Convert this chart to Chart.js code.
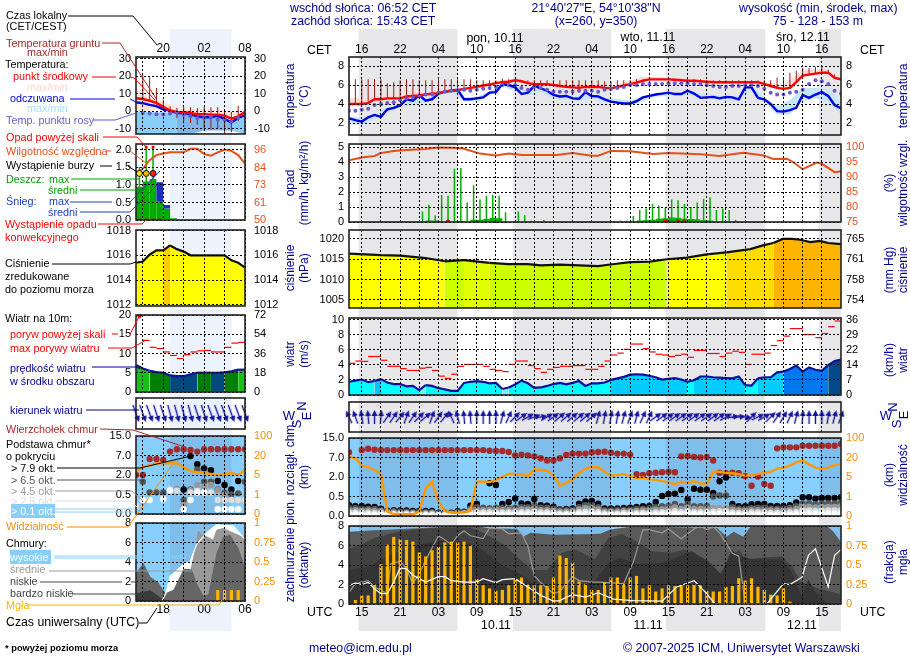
<!DOCTYPE html>
<html lang="pl">
<head>
<meta charset="utf-8">
<title>Meteogram</title>
<script src="https://cdn.jsdelivr.net/npm/chart.js@4"></script>
<style>
	html, body { margin: 0; background: #fff; }
	#page { position: relative; width: 910px; height: 660px; overflow: hidden; font-family: "Liberation Sans", Arial, sans-serif; }
	#page canvas { position: absolute; z-index: 1; }
	#page svg { position: absolute; left: 0; top: 0; z-index: 2; }
	.t { position: absolute; white-space: nowrap; z-index: 3; line-height: 14px; height: 14px; }
</style>
</head>
<body>
<div id="page"></div>
<script>
// hours since the start of each meteogram
const hoursR = Array.from({ length: 78 }, (_, i) => i);
const hoursL = Array.from({ length: 17 }, (_, i) => i);
const halfR = hoursR.slice(0, -1).map(h => h + 0.5);
const halfL = hoursL.slice(0, -1).map(h => h + 0.5);

// ticks
const gridR = [2, 5, 8, 11, 14, 17, 20, 23, 26, 29, 32, 35, 38, 41, 44, 47, 50, 53, 56, 59, 62, 65, 68, 71, 74];
const gridL = [1, 4, 7, 10, 13, 16];
const labelHoursR = [2, 8, 14, 20, 26, 32, 38, 44, 50, 56, 62, 68, 74];
const cetLabelsR = ['16', '22', '04', '10', '16', '22', '04', '10', '16', '22', '04', '10', '16'];
const utcLabelsR = ['15', '21', '03', '09', '15', '21', '03', '09', '15', '21', '03', '09', '15'];
const labelHoursL = [4, 10, 16];
const cetLabelsL = ['20', '02', '08'];
const utcLabelsL = ['18', '00', '06'];
const cloudAxisLevels = [0, 1, 2, 3, 4];
const cloudAxisKm = ['0.0', '0.5', '2.0', '7.0', '15.0'];
const visAxisKm = ['0', '1', '5', '20', '100'];

// night bands, hours
const nightsR = [[1.56, 16.9], [25.7, 41], [49.6, 65.1], [73.6, 77]];
const nightsL = [[5, 14]];

// ---- temperature, main panel
const tempMid = [4.0, 4.0, 4.0, 4.1, 4.5, 4.5, 4.6, 4.6, 4.6, 4.8, 4.85, 4.9, 5.0, 5.1, 5.15, 5.3, 5.4, 5.45, 5.6, 5.7, 5.8, 5.95, 6.05, 6.2, 6.3, 6.35, 6.5, 6.4, 6.2, 6.1, 6.1, 6.1, 6.0, 5.9, 5.8, 5.75, 5.7, 5.8, 5.8, 5.8, 5.7, 5.65, 5.8, 5.95, 6.1, 6.25, 6.45, 6.6, 6.6, 6.6, 6.6, 6.55, 6.5, 6.45, 6.45, 6.4, 6.35, 6.3, 6.3, 6.3, 6.3, 6.3, 6.3, 6.3, 6.3, 6.1, 5.9, 5.7, 5.6, 5.7, 6.3, 7.0, 7.1, 7.2, 7.3, 7.3, 6.75, 6.6];
const tempFeel = [2.5, 2.3, 2.15, 2.6, 2.85, 2.65, 3.45, 3.6, 3.85, 4.5, 4.35, 4.95, 4.35, 4.5, 5.1, 5.3, 5.4, 5.5, 4.5, 4.5, 4.6, 4.7, 5.2, 5.25, 6.1, 6.0, 5.75, 5.05, 5.2, 5.9, 5.65, 5.4, 4.95, 4.8, 4.85, 4.6, 4.55, 5.25, 4.85, 4.8, 4.5, 4.25, 4.15, 4.05, 4.05, 4.3, 4.7, 4.85, 5.0, 5.1, 5.2, 5.05, 5.05, 5.4, 5.1, 4.65, 4.7, 4.75, 4.6, 4.75, 4.7, 4.5, 5.75, 5.75, 4.65, 4.5, 4.0, 3.25, 3.2, 3.35, 3.6, 4.95, 4.65, 5.0, 5.25, 4.85, 3.9, 3.55];
const tempDew = [3.3, 3.3, 3.4, 3.5, 3.9, 4.0, 4.1, 4.2, 4.4, 4.6, 4.7, 4.8, 5.0, 5.0, 5.2, 5.3, 5.4, 5.4, 5.5, 5.4, 5.5, 5.6, 5.7, 5.8, 6.0, 6.0, 6.0, 5.7, 5.5, 5.8, 5.7, 5.5, 5.3, 5.3, 5.3, 5.3, 5.4, 5.4, 5.4, 5.3, 5.5, 5.6, 5.7, 5.8, 6.0, 6.0, 6.1, 6.1, 6.1, 6.1, 6.2, 6.2, 6.2, 6.2, 6.1, 6.1, 6.0, 5.9, 5.8, 5.8, 5.9, 5.9, 6.0, 6.0, 5.9, 5.6, 5.2, 5.0, 5.0, 5.2, 5.3, 5.5, 6.1, 6.5, 6.4, 6.1, 5.4, 5.1];
const groundMax = [6.6, 6.6, 6.6, 6.6, 6.6, 6.6, 6.2, 6.3, 6.5, 6.6, 6.6, 6.5, 6.5, 6.5, 6.6, 6.6, 6.6, 6.6, 6.6, 6.6, 6.5, 6.5, 6.5, 6.5, 6.7, 6.6, 6.6, 6.5, 6.5, 6.5, 6.5, 6.5, 6.5, 6.5, 6.5, 6.5, 6.5, 6.5, 6.5, 6.5, 6.4, 6.4, 6.5, 6.5, 6.5, 6.6, 6.6, 6.6, 6.6, 6.6, 6.6, 6.6, 6.6, 6.6, 6.6, 6.6, 6.5, 6.5, 6.5, 6.5, 6.5, 6.5, 6.5, 6.5, 6.5, 6.5, 6.5, 6.8, 6.8, 7.3, 7.5, 7.8, 7.8, 7.9, 7.9, 7.6, 7.1, 6.6];
const tempEnvHours = [0, 3, 6, 12, 18, 24, 26, 30, 39, 42, 46, 50, 60, 64, 68, 71, 74, 77];
const tempEnvMax = [4.6, 4.7, 5, 5.3, 5.7, 6.5, 6.7, 6.3, 6, 6, 6.9, 6.8, 6.5, 6.4, 6.0, 7.6, 7.6, 6.9];
const tempEnvMin = [3.9, 4.0, 4.5, 4.9, 5.5, 6.2, 6.4, 6.0, 5.7, 5.6, 6.4, 6.5, 6.2, 6.2, 5.5, 6.9, 7.2, 6.5];
const feelEnvHours = [0, 2, 4, 6, 8, 10, 12, 14, 16, 18, 20, 22, 24, 26, 28, 30, 32, 36, 38, 40, 44, 48, 54, 58, 61, 63, 65, 67, 69, 71, 73, 75, 77];
const feelEnvMax = [2.7, 2.5, 3.0, 3.6, 4.0, 4.5, 4.6, 5.2, 5.5, 4.7, 4.8, 5.3, 6.2, 6.0, 5.4, 5.8, 5.1, 4.8, 5.0, 4.7, 4.4, 5.1, 5.2, 4.9, 4.8, 5.9, 4.7, 3.8, 4.4, 5.7, 5.7, 5.6, 4.2];
const feelEnvMin = [1.9, 1.8, 2.4, 3.1, 3.6, 4.0, 4.1, 4.8, 5.3, 4.3, 4.3, 4.9, 5.9, 5.3, 4.9, 5.3, 4.6, 4.3, 4.6, 4.2, 3.8, 4.8, 4.9, 4.4, 4.3, 5.5, 4.2, 2.9, 2.9, 4.3, 4.6, 4.2, 2.9];

// ---- temperature, overview panel
const tempMidL = [7.4, 7, 6, 4.75, 2.5, 0.4, -0.4, -0.6, -1, -1.7, -1.7, -1.9, -1.9, -2.5, -4.2, -2.9, -0.4];
const tempFeelL = [5.1, 4.6, 3.6, 2.9, 1.1, 0.4, -1, -1.1, -1.7, -2.9, -3.4, -3.4, -2.5, -4.4, -6.3, -3.8, -2.3];
const tempDewHoursL = [1, 2, 3, 4, 5, 6, 7, 8, 9, 10, 11, 12, 13, 14, 15];
const tempDewL = [-1, -1.3, -1.7, -1.9, -1.3, -0.6, -1.9, -2.9, -3.8, -3.8, -3.2, -4.8, -5, -5.7, -3.8];
const groundHoursL = [1, 2, 3, 4, 5, 6, 7, 8, 9, 10, 11, 12, 13, 14, 15];
const groundMaxL = [21, 19.4, 13.3, 6.6, 2.9, 1.9, 2.5, 2.3, 1.9, 2.5, 2.3, 2.3, 1, -0.4, 3.2];
const groundMinL = [7, 6, 3.8, 2.5, -0.6, -3.8, -5.7, -6.7, -7.6, -9.5, -10.5, -9.5, -12.4, -12, -5.7];
const tempEnvHoursL = [0, 2, 3, 5, 7, 9, 13, 16];
const tempEnvMaxL = [13, 8.5, 6.6, 3.8, 1.9, 1, 0.6, 0];
const tempEnvMinL = [0, 0, 1, 0, -1, -2, -3, -1];
const feelEnvHoursL = [0, 2, 4, 6, 8, 10, 12, 14, 16];
const feelEnvMaxL = [0, -0.5, -0.5, -1, -1.7, -3.4, -2.5, -6, -2];
const feelEnvMinL = [-13, -13, -13, -13, -13, -11, -11, -11, -13];

// ---- precipitation and humidity
const rainMaxHours = [11.5, 12.5, 13.5, 14.5, 15.5, 16.5, 17.5, 18.5, 19.5, 20.5, 21.5, 22.5, 23.5, 24.5, 26.5, 27.5, 28.5, 30.5, 42.5, 43.5, 44.5, 45.5, 46.5, 47.5, 48.5, 49.5, 50.5, 51.5, 52.5, 53.5, 54.5, 55.5, 56.5, 57.5, 58.5, 59.5, 60.5];
const rainMax = [0.7, 1.15, 0.45, 1.8, 1.75, 3.55, 3.6, 1.3, 2.45, 1.5, 1.75, 1.8, 1.75, 0.65, 0.7, 0.45, 0.1, 0.15, 0.1, 0.1, 0.4, 0.8, 0.9, 1.2, 1.1, 0.95, 1.5, 1.45, 1.2, 1.0, 1.3, 1.55, 1.65, 0.8, 0.9, 0.8, 0.15];
const rainMeanHours = [12.5, 13.5, 17.5, 19.5, 20.5, 21.5, 22.5, 23.5, 45.5, 46.5, 47.5, 48.5, 49.5, 50.5, 51.5, 52.5, 53.5, 54.5, 55.5, 56.5];
const rainMean = [0.1, 0.1, 0.07, 0.15, 0.15, 0.2, 0.28, 0.25, 0.1, 0.12, 0.15, 0.22, 0.25, 0.3, 0.28, 0.22, 0.2, 0.18, 0.12, 0.1];
const convectiveHours = [15.5, 49.5, 51.5, 52.5];
const convective = [0.03, 0.03, 0.03, 0.03];
const humidityHours = [0, 2, 4, 5, 7, 9, 12, 14, 17, 18, 20.5, 23, 25, 27, 32.5, 35, 38, 39, 41, 44, 47.6, 50, 55, 58, 61.7, 64.9, 66.4, 68.5, 69.5, 71, 73.2, 74, 76, 77];
const humidity = [95.6, 96.5, 97, 98, 98.7, 99, 99.3, 99.8, 99.7, 99.4, 97.8, 97.2, 97.8, 97.3, 97.3, 98, 97.1, 97.1, 98.7, 98.6, 97.7, 98, 97.6, 97, 98.1, 97.2, 96, 96.1, 95, 92.6, 94.8, 94.4, 91.6, 91.9];
const rainMeanL = [0.95, 1.1, 1.17, 0.52, 0.33, 0.05];
const rainMeanHoursL = [0.5, 1.5, 2.5, 3.5, 4.5, 5.5];
const rainMaxHoursL = [0.5, 1.5, 2.5];
const rainMaxL = [1.52, 2.05, 2.05];
const snowHoursL = [3.5, 4.5];
const snowL = [[0.52, 1.08], [0.33, 0.43]];
const overScaleHoursL = [1.5, 2.5];
const overScaleL = [2.08, 2.08];
const stormHoursL = [0.5, 1.5, 2.5];
const stormL = [1.33, 1.33, 1.33];
const convectiveHoursL = [0.5, 1.5, 2.5, 3.5];
const convectiveL = [0.02, 0.02, 0.02, 0.02];
const humidityL = [80.7, 83.7, 89.4, 92.7, 93.8, 94.5, 94.5, 94.5, 96.8, 96.8, 93.4, 92.3, 94.5, 96.4, 95.5, 92.7, 87];

// ---- pressure
const pressureHours = [0, 5, 8, 12, 15, 18, 22, 25, 28, 30, 33, 36, 39, 40.9, 44, 47.1, 49.7, 52.9, 56, 59.1, 62.8, 64.8, 66.4, 67.9, 69.3, 70.6, 72.2, 73.7, 75, 77];
const pressure = [1016.4, 1016, 1015.9, 1015.3, 1014.5, 1014.8, 1014.1, 1013.8, 1013.8, 1013.5, 1013.7, 1013.5, 1013.3, 1013.7, 1014.3, 1014.4, 1015, 1015.4, 1016.2, 1016.7, 1017.5, 1018.4, 1019, 1020, 1020, 1019.8, 1019.2, 1019.5, 1019, 1018.7];
const pressureL = [1015.4, 1015.5, 1016.05, 1016.4, 1016.4, 1016.8, 1016.5, 1016.3, 1016, 1016, 1016, 1016, 1016, 1016, 1015.6, 1015.4, 1015];

// ---- wind
const windSpeed = [1.75, 1.9, 2.05, 1.7, 1.85, 2.1, 1.65, 1.45, 1.45, 1.15, 1.2, 0.65, 1.3, 1.2, 0.9, 0.75, 0.55, 0.55, 1.6, 1.75, 1.85, 1.75, 1.55, 1.6, 0.8, 1.0, 1.4, 1.9, 1.55, 0.95, 1.0, 1.2, 1.45, 1.6, 1.4, 1.6, 1.85, 1.2, 1.55, 1.55, 1.65, 2, 2.2, 2.4, 2.7, 2.75, 2.7, 2.55, 2.35, 2.05, 2.15, 2.25, 2.05, 1.75, 1.95, 2.45, 2.45, 2.35, 2.3, 2.25, 2.2, 2.45, 1.3, 1.25, 2.2, 2.35, 2.35, 3, 3.1, 3.45, 3.9, 3.1, 3.65, 3.35, 3.2, 3.95, 4.5, 4.7];
const windGust = [4.2, 4.5, 4.45, 5.1, 5.1, 4.6, 3.8, 3.8, 3.5, 3.25, 3.25, 3.55, 3.65, 3.25, 2.5, 2.2, 2.75, 3.8, 4.05, 4.05, 4.05, 3.8, 3.4, 3.25, 3.1, 4.05, 4.5, 4.5, 3.9, 3.5, 3.0, 3.4, 3.65, 3.8, 3.8, 3.9, 3.9, 3.4, 3.4, 3.8, 4.5, 5.3, 5.55, 6.05, 6.75, 6.75, 6.15, 5.7, 5.4, 5.3, 5.1, 5.25, 5.4, 5, 5.9, 5.9, 5.5, 5.5, 5.1, 5.55, 5.8, 5.65, 4.05, 5.4, 5.4, 5.55, 6.55, 7.2, 7.8, 8.8, 8.8, 8, 8, 7.6, 8.15, 9.05, 9.8];
const windDir = [-25, -20, -10, -5, 0, 5, 35, 35, 40, 20, 35, 45, 50, 20, 35, 40, -25, -15, -5, -5, 0, 0, 0, 0, 15, 25, 45, 55, 60, 70, 80, 60, 55, 50, 50, 50, 50, 50, 50, 15, 10, 10, 10, 15, 20, 15, 25, 25, 55, 55, 55, 55, 55, 55, 55, 55, 55, 55, 55, 60, 80, 85, 100, 45, 65, 60, 45, 35, 30, 25, 15, 5, 0, 0, 0, 10, 15, 20];
const windSpeedL = [7, 6.1, 5.5, 5.2, 5, 4.3, 4.1, 4.1, 4.6, 5, 5, 5, 5, 5.1, 5.4, 5.8, 5.8];
const windGustL = [null, 13.4, 11.6, 11.3, 10.4, 9.5, 8.7, 9.7, 10.4, 10.7, 10.8, 10.4, 10.4, 11.6, 12.7, 12.9];
const windOverHoursL = [0.5];
const windOverL = [19.7];
const windDirL = [160, 160, 160, 162, 162, 165, 165, 165, 165, 162, 162, 160, 160, 160, 160, 160, 160];

// ---- cloud base and top, on the axis' own level units (0.0, 0.5, 2, 7, 15 km = 0..4)
const cloudTop = [3.27, null, 3.38, 3.45, 3.4, 3.38, 3.38, 3.38, 3.38, 3.38, 3.38, 3.38, 3.38, 3.38, 3.38, 3.38, 3.38, 3.38, 3.38, 3.38, 3.38, 3.38, 3.35, 3.33, 3.33, 3.28, 3.11, 3.15, 3.11, 3.06, 2.96, 2.85, 2.85, 2.96, 3.13, 3.2, 3.2, 3.2, 3.27, 3.28, 3.3, 3.25, 3.2, 3.2, 3.15, 2.15, 2.1, 2.19, 2.22, 2.24, 2.27, 2.24, 3.06, 3.08, 3.03, 3.0, 3.03, 2.85, 2.22, 2.19, 2.22, 2.19, 2.05, 1.55, 2.02, 1.64, 1.55, 3.47, 3.52, 3.52, 3.52, 3.6, 3.6, 3.6, 3.6, 3.6, 3.6, 3.69];
const cloudBase79 = [0.56, 0.51, 0.51, 0.48, 0.46, 0.38, 0.27, 0.3, 0.29, 0.29, 0.26, 0.26, 0.26, 0.26, 0.17, 0.17, 0.17, 0.24, 0.22, 0.53, 0.63, null, 1.68, 1.59, 0.62, 0.72, 0.9, 0.65, 0.62, 0.87, 0.56, 0.53, 0.48, 0.34, 0.36, 0.39, 0.63, 0.75, 0.77, 0.63, 0.39, 0.39, 0.39, 0.41, 0.43, 0.46, 0.5, 0.51, 0.72, 1.03, 1.13, 1.15, 1.33, 0.85, 1.4, 1.35, 1.35, 1.18, 1.78, 1.97, 0.62, 0.5, 0.5, 0.6, 0.62, 0.62, 0.51, 0.51, 0.51, 0.55, 0.7, 0.96, 0.96, 0.89, 0.92, 0.92, 0.92, 0.96];
const cloudBase65 = [0.42, 0.4, 0.38, 0.36, 0.36, 0.3, 0.24, 0.24, 0.22, 0.22, 0.2, 0.2, 0.2, 0.2, 0.14, 0.14, 0.14, 0.2, 0.2, 0.38, 0.45, 0.42, 0.4, 0.42, 0.4, 0.4, 0.42, 0.45, 0.45, 0.55, 0.42, 0.42, 0.38, 0.3, 0.3, 0.32, 0.45, 0.55, 0.55, 0.45, 0.3, 0.3, 0.3, 0.32, 0.34, 0.36, 0.38, 0.4, 0.45, 0.5, 0.52, 0.62, 0.5, 0.62, 0.5, 0.5, 0.52, 1.0, 1.05, 1.05, 0.45, 0.38, 0.38, 0.4, 0.42, 0.42, 0.38, 0.38, 0.38, 0.42, 0.5, 0.65, 0.66, 0.6, 0.65, 0.65, 0.65, 0.68];
const cloudBase45 = [0.3, 0.3, 0.28, 0.28, 0.26, 0.24, 0.18, 0.18, 0.16, 0.16, 0.14, 0.14, 0.14, 0.14, 0.1, 0.1, 0.1, 0.14, 0.14, 0.28, 0.32, 0.3, 0.3, 0.32, 0.3, 0.3, 0.3, 0.34, 0.34, 0.38, 0.3, 0.3, 0.28, 0.22, 0.22, 0.24, 0.34, 0.4, 0.4, 0.34, 0.22, 0.22, 0.22, 0.24, 0.24, 0.26, 0.28, 0.3, 0.32, 0.34, 0.36, 0.44, 0.36, 0.42, 0.36, 0.36, 0.36, 0.4, 0.4, 0.4, 0.32, 0.28, 0.28, 0.3, 0.3, 0.3, 0.28, 0.28, 0.28, 0.3, 0.36, 0.48, 0.48, 0.44, 0.46, 0.46, 0.46, 0.5];
const cloudBase25 = [0.18, 0.18, 0.16, 0.16, 0.14, 0.14, 0.1, 0.1, 0.1, 0.1, 0.08, 0.08, 0.08, 0.08, 0.06, 0.06, 0.06, 0.08, 0.08, 0.16, 0.18, 0.18, 0.18, 0.18, 0.18, 0.18, 0.18, 0.2, 0.2, 0.22, 0.18, 0.18, 0.16, 0.12, 0.12, 0.14, 0.2, 0.22, 0.22, 0.2, 0.12, 0.12, 0.12, 0.14, 0.14, 0.14, 0.16, 0.16, 0.18, 0.2, 0.2, 0.24, 0.2, 0.24, 0.2, 0.2, 0.2, 0.22, 0.24, 0.24, 0.18, 0.16, 0.16, 0.18, 0.18, 0.18, 0.16, 0.16, 0.16, 0.18, 0.2, 0.28, 0.28, 0.26, 0.28, 0.28, 0.28, 0.3];
const cloudBase01 = [0.08, 0.08, 0.07, 0.07, 0.06, 0.06, 0.05, 0.05, 0.04, 0.04, 0.03, 0.03, 0.03, 0.03, 0.02, 0.02, 0.02, 0.03, 0.03, 0.06, 0.07, 0.07, 0.07, 0.07, 0.07, 0.07, 0.07, 0.08, 0.08, 0.09, 0.07, 0.07, 0.06, 0.05, 0.05, 0.06, 0.08, 0.09, 0.09, 0.08, 0.05, 0.05, 0.05, 0.06, 0.06, 0.06, 0.07, 0.07, 0.07, 0.08, 0.08, 0.1, 0.08, 0.1, 0.08, 0.08, 0.08, 0.09, 0.1, 0.1, 0.07, 0.06, 0.06, 0.07, 0.07, 0.07, 0.06, 0.06, 0.06, 0.07, 0.08, 0.12, 0.12, 0.11, 0.12, 0.12, 0.12, 0.13];
const visibility = [3.04, 2.96, 2.58, 2.5, 2.36, 2.15, 0.22, 0.1, 0.09, 0.09, 0.09, 0.22, 1.42, 1.76, 0.73, 0.26, 0.17, 0.17, 0.19, 0.26, 1.76, 1.76, 1.74, 1.85, 2.0, 2.17, 2.15, 2.13, 2.05, 2.38, 2.36, 2.32, 2.1, 1.54, 1.7, 1.88, 2.19, 2.43, 2.51, 2.5, 2.27, 2.07, 2.1, 2.14, 2.05, 1.93, 1.97, 1.88, 1.85, 1.79, 1.73, 1.62, 1.76, 1.7, 1.78, 1.68, 1.64, 2.27, 2.27, 2.22, 2.19, 2.14, 2.07, 2.1, 2.15, 2.22, 2.27, 2.43, 2.48, 2.58, 2.75, 2.84, 2.65, 2.48, 2.41, 2.48, 2.62, 2.65];
const cloudTopL = [2, 2, 2.82, 2.82, 2.77, 3.2, 3.32, 3.32, 3.28, 3.2, 3.32, 3.32, 3.32, 3.32, 3.32, 3.32, 3.32];
const cloudBase79L = [null, null, null, null, null, null, null, 1.26, 2.97, 2.55, 2.34, 2.25, 1.69, 1.49, 1.26, 1.69, null];
const cloudBase65L = [null, 1.66, 1.11, 1.11, 1.11, null, 1.26, 0.72, 1.26, 2.29, 1.66, 1.66, 1.26, 1.09, 1.0, 1.06, 1.66];
const cloudBase45L = [null, 0.68, null, null, null, 1.26, 1.26, 0.46, 1.22, 1.49, 1.4, 1.49, 1.23, 0.97, 0.72, null, 0.72];
const cloudBase25L = [0.41, null, null, null, null, 1.26, 1.2, null, 1.1, 1.18, 1.1, 1.1, 0.72, 0.72, 0.72, 0.72, 0.72];
const cloudBase01L = [null, 0.72, 0.72, null, 0.77, 1.2, null, 0.24, 0.72, 1.1, 1.1, null, 0.24, 0.24, 0.24, 0.24, null];
const visibilityL = [2.2, 2.4, 2.5, 2.6, 2.6, 2.6, 2.6, 2.4, 2.2, 2.15, 2.1, 2.05, 2.0, 2.05, 2.1, 2.0, 2.25];

// ---- cloud cover in oktas, fog as a fraction
const coverTopHours = [0, 3.3, 11.7, 16.9, 20, 21.6, 26.3, 27.3, 28.4, 32, 36.7, 39.3, 40.9, 44.5, 57.6, 59.1, 60.2, 61.7, 62.8, 74.8, 75.8, 77];
const coverTop = [7.4, 7.55, 7.8, 8, 8, 7.8, 7.7, 6.9, 7.3, 7.1, 7.15, 7.2, 7.65, 7.95, 7.8, 6.9, 7.4, 6.9, 7.9, 8, 7.4, 6.35];
const coverMidHours = [0, 2, 4, 7, 10, 15, 19, 21, 24.5, 26, 28.7, 31, 33.4, 35.5, 38.5, 40.6, 42.7, 45.3, 47.4, 50.5, 52.6, 56.2, 57.8, 59.6, 61, 62, 64.6, 67.7, 69.3, 70.8, 74, 77];
const coverMid = [5.7, 6.1, 6.8, 7.3, 7.65, 7.85, 7.85, 7.3, 6, 5, 3.5, 3.5, 5.3, 5.6, 4.6, 6.8, 7.15, 6.3, 5.4, 5.25, 5.6, 3.7, 2.9, 4.6, 5.6, 4.6, 4.75, 4.9, 3.9, 2.2, 1.5, 1];
const coverLowHours = [0, 3, 6, 10, 15, 18, 21, 24, 27, 30, 34, 36, 38.5, 40.6, 42.4, 45.3, 49, 53.6, 56.2, 58.3, 59.9, 61, 63, 67.7, 69.3, 70.8, 71.9, 73, 75, 77];
const coverLow = [3.5, 3.8, 4.9, 6, 6.6, 6.4, 5.5, 4, 3, 1.5, 1.5, 2, 2.4, 4.2, 4.75, 4.1, 4.2, 5.4, 4.4, 3, 5.6, 5, 4.6, 4.6, 3.2, 0.8, 2.5, 1.2, 0, 0];
const midLineHours = [0, 1, 3, 4, 5, 6, 6.5, 8, 9, 10, 11, 12, 14, 15, 16, 17, 18, 19, 21, 22, 24, 25, 27, 28, 29, 30, 32, 33, 34, 35, 36, 38, 39, 43, 44.5, 46, 47, 49, 50, 52, 54, 55, 56, 57, 58, 60, 61, 62];
const midLine = [1.2, 2.1, 2.4, 1.75, 1.4, 1.05, 4.1, 4.4, 3.6, 2.1, 3.1, 4.5, 7, 6.6, 6.1, 7, 7.5, 7, 6.7, 7.8, 7.7, 7.2, 7.3, 5.9, 2.9, 2.2, 1.05, 1.3, 2.1, 2.8, 2.4, 2.25, 2.25, 2.1, 4.3, 7.6, 7.6, 7.3, 7.7, 6.7, 7.7, 8, 7.6, 7.9, 7.3, 5.2, 4.9, 0];
const highLineHours = [0, 1, 2, 3, 4, 5, 6, 7, 8, 9, 10, 12, 14, 15, 16, 18, 20, 21, 23, 24, 26, 28, 30, 32, 33, 34, 35, 37, 39, 41.4, 44.5, 49, 51.3, 54, 55.8, 57.3, 65.4, 68, 69, 70.9, 71.9, 73, 75, 76, 77];
const highLine = [1.9, 2.15, 2, 2.2, 1.55, 1.05, 1.05, 2.25, 3.7, 3.6, 2.95, 2.25, 2.8, 2.8, 2.4, 2.25, 2.25, 2.6, 2.2, 2.5, 2.6, 1.75, 0.9, 0.3, 0.35, 0.7, 0.95, 0.7, 1.15, 0.5, 0.35, 0.3, 1.75, 2.4, 1.2, 0, 0, 2.1, 2, 2.75, 5, 5.65, 1.75, 5, 5.6];
const fogHours = hoursR.slice(1, 70);
const fog = [0.05, 0.11, 0.11, 0.25, 0.51, 0.76, 0.86, 0.83, 0.82, 0.8, 0.66, 0.61, 0.69, 0.73, 0.79, 0.8, 0.79, 0.8, 0.75, 0.32, 0.24, 0.2, 0.17, 0.18, 0.24, 0.31, 0.34, 0.25, 0.24, 0.24, 0.23, 0.34, 0.62, 0.59, 0.53, 0.29, 0.26, 0.18, 0.18, 0.28, 0.34, 0.34, 0.26, 0.34, 0.36, 0.2, 0.24, 0.16, 0.2, 0.24, 0.23, 0.23, 0.24, 0.25, 0.24, 0.17, 0.16, 0.16, 0.22, 0.23, 0.33, 0.3, 0.33, 0.22, 0.18, 0.12, 0.11, 0.2, 0.03];
const highLineHoursL = [3.8, 4.4, 5, 7, 7.9, 8.9, 10.4, 11.8, 14.3, 16];
const highLineL = [0, 0.8, 2.5, 3.8, 4, 5.8, 7, 7.8, 7.7, 6.3];
const coverMidHoursL = [8, 8.8, 9.1, 9.9, 11.3, 11.8, 12.8, 16];
const coverMidL = [3.2, 5.8, 7.2, 6.8, 6.3, 7.3, 7.5, 6.5];
const coverLowHoursL = [0, 1.1, 2.1, 3.3, 4.3, 5.5, 7, 8.2, 8.9, 9.9, 10.6, 11.8, 12.8, 13.8, 15, 16];
const coverLowL = [2.9, 3.9, 2.5, 1.9, 0.8, 1.15, 3.3, 3.25, 1.85, 0.55, 0.65, 4.9, 6.6, 6.8, 5.5, 3.5];
const coverVeryLowHoursL = [0, 2.1, 4, 5];
const coverVeryLowL = [0.8, 1.1, 0.15, 0];
const fogHoursL = [12, 13, 14, 15];
const fogL = [0.14, 0.14, 0.14, 0.14];

// ---- colour strips, each stop runs up to the given hour
const pressStops = [[14, '#ffff00'], [17, '#ccff00'], [19, '#e2ff00'], [48, '#ccff00'], [58, '#ffff00'], [65, '#ffdd00'], [78, '#ffb400']];
const pressStopsL = [[4, '#ffff00'], [5, '#ffcc00'], [17, '#ffff00']];
const windStops = [[4, '#00ffff'], [5, '#00c4ff'], [11, '#00ffff'], [12, '#66ffff'], [24, '#00ffff'], [25, '#66ffff'], [41, '#00ffff'], [53, '#00ccff'], [54, '#00ffff'], [62, '#00ccff'], [64, '#00ffff'], [68, '#00ccff'], [75, '#0078ee'], [78, '#004a8c']];
const windStopsL = [[2, '#16c016'], [5, '#008000'], [9, '#004a80'], [11, '#008000'], [13, '#004a80'], [15, '#008000'], [17, '#16c016']];
const feelStopsL = [[5, '#87cdf8'], [14, '#7db6ea'], [17, '#87cdf8']];

const NAVY = '#000090';
const FONT_TICK = { family: '"Liberation Sans", Arial, sans-serif', size: 11 };
const FONT_TIME = { family: '"Liberation Sans", Arial, sans-serif', size: 12 };
const page = document.getElementById('page');

function pts(xs, ys) {
	return xs.map((x, i) => ({ x: x, y: ys[i] }));
}
function stopColor(stops, h) {
	for (const s of stops) {
		if (h < s[0]) return s[1];
	}
	return stops[stops.length - 1][1];
}
function line(xs, ys, color, width, order, axis) {
	return { type: 'line', data: pts(xs, ys), borderColor: color, borderWidth: width, order: order, yAxisID: axis || 'y', pointRadius: 0, tension: 0, fill: false };
}
function dots(xs, ys, color, radius, order, axis) {
	return { type: 'line', data: pts(xs, ys), showLine: false, pointRadius: radius, pointBackgroundColor: color, pointBorderWidth: 0, order: order, yAxisID: axis || 'y' };
}
// ungrouped, so the thin bars stay on their hour; width comes from maxBarThickness then
function bars(xs, ys, color, thick, order, axis) {
	return { type: 'bar', data: pts(xs, ys), backgroundColor: color, grouped: false, maxBarThickness: thick, barPercentage: 1, categoryPercentage: 1, inflateAmount: 0, order: order, yAxisID: axis || 'y' };
}
function dashes(xs, ys, color, radius, order) {
	return { type: 'line', data: pts(xs, ys), showLine: false, pointStyle: 'line', pointRadius: radius, pointBorderColor: color, pointBorderWidth: 1.2, order: order };
}
function band(xs, hi, lo, color, order) {
	return [
		{ type: 'line', data: pts(xs, hi), borderWidth: 0, pointRadius: 0, fill: '+1', backgroundColor: color, order: order },
		{ type: 'line', data: pts(xs, lo), borderWidth: 0, pointRadius: 0, fill: false, order: order },
	];
}
function area(xs, ys, color, order) {
	return { type: 'line', data: pts(xs, ys), borderWidth: 0, pointRadius: 0, fill: 'origin', backgroundColor: color, order: order, tension: 0 };
}

// sky behind the cloud panels and the frame around every panel
const panelDeco = {
	id: 'panelDeco',
	beforeDatasetsDraw(chart, args, opts) {
		if (!opts.nights) return;
		const { ctx, chartArea: a, scales } = chart;
		ctx.save();
		ctx.fillStyle = '#87cfff';
		ctx.fillRect(a.left, a.top, a.width, a.height);
		ctx.fillStyle = '#7fbeea';
		opts.nights.forEach(n => {
			const x0 = scales.x.getPixelForValue(n[0]);
			const x1 = scales.x.getPixelForValue(n[1]);
			ctx.fillRect(x0, a.top, x1 - x0, a.height);
		});
		ctx.restore();
	},
	afterDraw(chart) {
		const { ctx, chartArea: a } = chart;
		ctx.save();
		ctx.strokeStyle = '#222';
		ctx.lineWidth = 1.6;
		ctx.strokeRect(a.left, a.top, a.width, a.height);
		ctx.restore();
	},
};

function panel(cfg) {
	const mTop = 20, mBottom = 20, side = 42;
	const canvas = document.createElement('canvas');
	canvas.width = cfg.w + side * 2;
	canvas.height = cfg.h + mTop + mBottom;
	canvas.style.left = (cfg.x - side) + 'px';
	canvas.style.top = (cfg.y - mTop) + 'px';
	page.appendChild(canvas);

	const setTicks = list => axis => { axis.ticks = list.map(v => ({ value: v })); };
	const gridOpts = { color: '#000', z: 1, drawTicks: false, lineWidth: 1, offset: false };
	const borderOpts = { display: false, dash: [2, 2] };
	const scales = {
		x: {
			type: 'linear',
			position: cfg.xPos || 'bottom',
			offset: false,
			min: 0,
			max: cfg.xMax,
			afterBuildTicks: setTicks(cfg.grid),
			afterFit: s => { s.height = cfg.xPos ? (cfg.xPos === 'top' ? mTop : mBottom) : 0; },
			ticks: {
				display: !!cfg.xPos,
				autoSkip: false,
				maxRotation: 0,
				padding: cfg.xPad === undefined ? 1 : cfg.xPad,
				color: '#000',
				font: FONT_TIME,
				callback: v => {
					const k = cfg.xHours ? cfg.xHours.indexOf(v) : -1;
					return k < 0 ? '' : cfg.xLabels[k];
				},
			},
			grid: gridOpts,
			border: borderOpts,
		},
	};
	if (cfg.yTicks) {
		scales.y = {
			position: 'left',
			min: cfg.yMin,
			max: cfg.yMax,
			afterBuildTicks: setTicks(cfg.yTicks),
			afterFit: s => { s.width = side; },
			ticks: { autoSkip: false, padding: cfg.yPad || 5, color: '#000', font: FONT_TICK, callback: (v, i) => cfg.yLabels[i] },
			grid: gridOpts,
			border: borderOpts,
		};
		scales.y1 = {
			position: 'right',
			min: cfg.y1Min,
			max: cfg.y1Max,
			afterBuildTicks: setTicks(cfg.y1Ticks),
			afterFit: s => { s.width = side; },
			ticks: { autoSkip: false, padding: cfg.y1Pad || 5, color: cfg.y1Color || '#000', font: FONT_TICK, callback: (v, i) => cfg.y1Labels[i] },
			grid: { display: false, drawTicks: false },
			border: { display: false },
		};
	} else {
		scales.y = { display: false, min: -1, max: 1 };
	}
	return new Chart(canvas, {
		type: 'line',
		data: { datasets: cfg.datasets },
		plugins: [panelDeco],
		options: {
			responsive: false,
			animation: false,
			devicePixelRatio: 1,
			events: [],
			layout: {
				padding: {
					left: cfg.yTicks ? 0 : side,
					right: cfg.yTicks ? 0 : side,
					top: cfg.xPos === 'top' ? 0 : mTop,
					bottom: cfg.xPos === 'bottom' ? 0 : mBottom,
				},
			},
			scales: scales,
			plugins: {
				legend: { display: false },
				tooltip: { enabled: false },
				title: { display: false },
				panelDeco: { nights: cfg.sky },
			},
		},
	});
}

// night strips, drawn as floating bars that run past the panels
function nightStrips(x, w, maxHour, list, color) {
	const canvas = document.createElement('canvas');
	canvas.width = w;
	canvas.height = 602;
	canvas.style.left = x + 'px';
	canvas.style.top = '29px';
	canvas.style.zIndex = 0;
	page.appendChild(canvas);
	new Chart(canvas, {
		type: 'bar',
		data: {
			labels: ['noc'],
			datasets: list.map(n => ({ data: [n], backgroundColor: color, barPercentage: 1, categoryPercentage: 1, grouped: false })),
		},
		options: {
			indexAxis: 'y',
			responsive: false,
			animation: false,
			devicePixelRatio: 1,
			events: [],
			scales: {
				x: { display: false, min: 0, max: maxHour },
				y: { display: false },
			},
			plugins: { legend: { display: false }, tooltip: { enabled: false } },
		},
	});
}
nightStrips(349, 492, 77, nightsR, '#e7e7e9');
nightStrips(136, 109, 16, nightsL, '#edf3fd');

// wind arrow sprite, pointing up, turned per point with pointRotation
function arrowSprite(len) {
	const s = document.createElement('canvas');
	s.width = 7;
	s.height = len;
	const c = s.getContext('2d');
	c.fillStyle = '#1414a0';
	c.fillRect(2.8, 3, 1.4, len - 3);
	c.beginPath();
	c.moveTo(3.5, 0);
	c.lineTo(6.5, 6);
	c.lineTo(0.5, 6);
	c.closePath();
	c.fill();
	return s;
}
function arrows(xs, angles, len) {
	return { type: 'line', data: xs.map(x => ({ x: x, y: 0 })), showLine: false, pointStyle: arrowSprite(len), pointRadius: 8, pointRotation: angles, clip: false };
}

// ---- right column
const R = { x: 349, w: 492, xMax: 77, grid: gridR };
const L = { x: 136, w: 109, xMax: 16, grid: gridL };

panel({
	...R, y: 57, h: 78, xPos: 'top', xPad: 0, xHours: labelHoursR, xLabels: cetLabelsR,
	yMin: 0.74, yMax: 8.95, yTicks: [2, 4, 6, 8], yLabels: ['2', '4', '6', '8'],
	y1Min: 0.74, y1Max: 8.95, y1Ticks: [2, 4, 6, 8], y1Labels: ['2', '4', '6', '8'],
	datasets: [
		line(hoursR, tempMid, '#ff0000', 2.4, 2),
		line(hoursR, tempFeel, '#0000e8', 2.4, 3),
		dots(hoursR, tempDew, '#6a5acd', 2, 1),
		bars(hoursR, tempMid.map((v, i) => [v, groundMax[i]]), '#a01818', 1, 4),
		...band(tempEnvHours, tempEnvMax, tempEnvMin, '#ffdcd6', 6),
		...band(feelEnvHours, feelEnvMax, feelEnvMin, '#c4e6ff', 5),
	],
});

panel({
	...R, y: 144, h: 78,
	yMin: 0, yMax: 5.2, yTicks: [0, 1, 2, 3, 4, 5], yLabels: ['0', '1', '2', '3', '4', '5'],
	y1Min: 75, y1Max: 101, y1Ticks: [75, 80, 85, 90, 95, 100], y1Labels: ['75', '80', '85', '90', '95', '100'], y1Color: '#e8501a',
	datasets: [
		line(humidityHours, humidity, '#e8501a', 2, 1, 'y1'),
		dots(convectiveHours, convective, '#e00000', 2, 2),
		bars(rainMaxHours, rainMax, '#00b000', 1.5, 3),
		bars(rainMeanHours, rainMean, '#00b000', 6.4, 4),
	],
});
panel({
	...R, y: 230, h: 78,
	yMin: 1003, yMax: 1022.2, yTicks: [1005, 1010, 1015, 1020], yLabels: ['1005', '1010', '1015', '1020'],
	y1Min: 1003, y1Max: 1022.2, y1Ticks: [1005, 1010, 1015, 1020], y1Labels: ['754', '758', '761', '765'],
	datasets: [
		{ ...line(pressureHours, pressure, '#111', 2.2, 1), fill: 'start', backgroundColor: '#ffff00', segment: { backgroundColor: c => stopColor(pressStops, c.p0.parsed.x) } },
	],
});
panel({
	...R, y: 318, h: 77,
	yMin: 0, yMax: 10.2, yTicks: [0, 2, 4, 6, 8, 10], yLabels: ['0', '2', '4', '6', '8', '10'],
	y1Min: 0, y1Max: 10.2, y1Ticks: [0, 2, 4, 6, 8, 10], y1Labels: ['0', '7', '14', '22', '29', '36'],
	datasets: [
		dashes(halfR, windGust, '#ff0000', 3.2, 1),
		{ ...line(hoursR, windSpeed, '#10109c', 2.2, 2), fill: 'origin', backgroundColor: '#00ffff', segment: { backgroundColor: c => stopColor(windStops, c.p0.parsed.x) } },
	],
});
panel({ ...R, y: 402, h: 30, datasets: [arrows(hoursR, windDir, 14)] });
panel({
	...R, y: 438, h: 78, sky: nightsR,
	yMin: 0, yMax: 4, yTicks: cloudAxisLevels, yLabels: cloudAxisKm,
	y1Min: 0, y1Max: 4, y1Ticks: cloudAxisLevels, y1Labels: visAxisKm, y1Color: '#ff8c00',
	datasets: [
		line(hoursR, visibility, '#ff9800', 2.4, 1, 'y1'),
		dots(hoursR, cloudBase01, '#ffffff', 3.2, 2),
		dots(hoursR, cloudBase25, '#dddddd', 3.2, 3),
		dots(hoursR, cloudBase45, '#999999', 3.2, 4),
		dots(hoursR, cloudBase65, '#555555', 3.2, 5),
		dots(hoursR, cloudBase79, '#000000', 3.2, 6),
		dots(hoursR, cloudTop, '#a52a2a', 3.2, 7),
	],
});
panel({
	...R, y: 526, h: 78, sky: nightsR, xPos: 'bottom', xHours: labelHoursR, xLabels: utcLabelsR,
	yMin: 0, yMax: 8, yTicks: [0, 2, 4, 6, 8], yLabels: ['0', '2', '4', '6', '8'],
	y1Min: 0, y1Max: 1, y1Ticks: [0, 0.25, 0.5, 0.75, 1], y1Labels: ['0', '0.25', '0.5', '0.75', '1'], y1Color: '#ff8c00',
	datasets: [
		line(highLineHours, highLine, '#ffffff', 1.2, 1),
		bars(fogHours, fog, '#ffb400', 3.2, 2, 'y1'),
		line(midLineHours, midLine, '#9a9a9a', 1.2, 3),
		area(coverLowHours, coverLow, '#343434', 4),
		area(coverMidHours, coverMid, '#414141', 5),
		area(coverTopHours, coverTop, '#5a5a5a', 6),
	],
});

// ---- left column
panel({
	...L, y: 57, h: 77, xPos: 'top', xHours: labelHoursL, xLabels: cetLabelsL,
	yMin: -13, yMax: 31, yTicks: [-10, 0, 10, 20, 30], yLabels: ['-10', '0', '10', '20', '30'],
	y1Min: -13, y1Max: 31, y1Ticks: [-10, 0, 10, 20, 30], y1Labels: ['-10', '0', '10', '20', '30'], y1Pad: 9,
	datasets: [
		dots(tempDewHoursL, tempDewL, '#6a5acd', 2, 1),
		line(hoursL, tempMidL, '#ff0000', 2.4, 2),
		line(hoursL, tempFeelL, '#0000e8', 2.4, 3),
		bars(groundHoursL, groundMinL.map((v, i) => [v, groundMaxL[i]]), '#a01818', 1, 4),
		...band(tempEnvHoursL, tempEnvMaxL, tempEnvMinL, '#ffe4da', 6),
		{ type: 'line', data: pts(feelEnvHoursL, feelEnvMaxL), borderWidth: 0, pointRadius: 0, fill: '+1', backgroundColor: '#87cdf8', order: 5, segment: { backgroundColor: c => stopColor(feelStopsL, c.p0.parsed.x) } },
		{ type: 'line', data: pts(feelEnvHoursL, feelEnvMinL), borderWidth: 0, pointRadius: 0, fill: false, order: 5 },
	],
});
panel({
	...L, y: 144, h: 76,
	yMin: 0, yMax: 2.17, yTicks: [0, 0.5, 1, 1.5, 2], yLabels: ['0.0', '0.5', '1.0', '1.5', '2.0'],
	y1Min: 50, y1Max: 100, y1Ticks: [50, 61, 73, 84, 96], y1Labels: ['50', '61', '73', '84', '96'], y1Pad: 9, y1Color: '#e8501a',
	datasets: [
		line(hoursL, humidityL, '#e8501a', 2, 3, 'y1'),
		{ ...dots(stormHoursL, stormL, ['#ffe600', '#ffb000', '#ff2000'], 3, 1), pointBorderWidth: 1, pointBorderColor: '#111' },
		{ ...dots(overScaleHoursL, overScaleL, '#ee0000', 2, 2), pointStyle: 'rect' },
		dashes(convectiveHoursL, convectiveL, '#e00000', 2.5, 2),
		bars(snowHoursL, snowL, '#1c30c0', 7, 4),
		bars(rainMaxHoursL, rainMaxL, '#00b000', 1.5, 5),
		bars(rainMeanHoursL, rainMeanL, '#00a800', 7, 6),
	],
});
panel({
	...L, y: 230, h: 76,
	yMin: 1011.9, yMax: 1018.05, yTicks: [1012, 1014, 1016, 1018], yLabels: ['1012', '1014', '1016', '1018'],
	y1Min: 1011.9, y1Max: 1018.05, y1Ticks: [1012, 1014, 1016, 1018], y1Labels: ['1012', '1014', '1016', '1018'], y1Pad: 9,
	datasets: [
		{ ...line(hoursL, pressureL, '#111', 2.2, 1), fill: 'start', backgroundColor: '#ffff00', segment: { backgroundColor: c => stopColor(pressStopsL, c.p0.parsed.x) } },
	],
});
panel({
	...L, y: 315, h: 77,
	yMin: 0, yMax: 20, yTicks: [0, 5, 10, 15, 20], yLabels: ['0', '5', '10', '15', '20'],
	y1Min: 0, y1Max: 20, y1Ticks: [0, 5, 10, 15, 20], y1Labels: ['0', '18', '36', '54', '72'], y1Pad: 9,
	datasets: [
		{ ...dots(windOverHoursL, windOverL, '#ee0000', 2), clip: false },
		dashes(halfL, windGustL, '#ff0000', 3.4, 1),
		{ ...line(hoursL, windSpeedL, '#10109c', 2.2, 2), fill: 'origin', backgroundColor: '#008000', segment: { backgroundColor: c => stopColor(windStopsL, c.p0.parsed.x) } },
	],
});
panel({ ...L, y: 398, h: 31, datasets: [arrows(hoursL, windDirL, 18)] });
panel({
	...L, y: 436, h: 78, sky: nightsL,
	yMin: 0, yMax: 4, yTicks: cloudAxisLevels, yLabels: cloudAxisKm,
	y1Min: 0, y1Max: 4, y1Ticks: cloudAxisLevels, y1Labels: visAxisKm, y1Pad: 9, y1Color: '#ff8c00',
	datasets: [
		line(hoursL, visibilityL, '#ff9800', 2.4, 1, 'y1'),
		dots(hoursL, cloudBase01L, '#ffffff', 3.2, 2),
		dots(hoursL, cloudBase25L, '#dddddd', 3.2, 3),
		dots(hoursL, cloudBase45L, '#999999', 3.2, 4),
		dots(hoursL, cloudBase65L, '#555555', 3.2, 5),
		dots(hoursL, cloudBase79L, '#000000', 3.2, 6),
		dots(hoursL, cloudTopL, '#a52a2a', 3.2, 7),
	],
});
panel({
	...L, y: 523, h: 78, sky: nightsL, xPos: 'bottom', xHours: labelHoursL, xLabels: utcLabelsL,
	yMin: 0, yMax: 8, yTicks: [0, 2, 4, 6, 8], yLabels: ['0', '2', '4', '6', '8'],
	y1Min: 0, y1Max: 1, y1Ticks: [0, 0.25, 0.5, 0.75, 1], y1Labels: ['0', '0.25', '0.5', '0.75', '1'], y1Pad: 9, y1Color: '#ff8c00',
	datasets: [
		bars(fogHoursL, fogL, '#ffb400', 3.2, 1, 'y1'),
		area(coverVeryLowHoursL, coverVeryLowL, '#3a3a3a', 2),
		area(coverLowHoursL, coverLowL, '#666666', 3),
		area(coverMidHoursL, coverMidL, '#999999', 4),
		line(highLineHoursL, highLineL, '#ffffff', 1.2, 0),
		area(highLineHoursL, highLineL, '#ffffff', 5),
	],
});

// ---- text
const TEXT = [
	['Czas lokalny', 6, 15, '#000'], ['(CET/CEST)', 6, 26, '#000'],
	['Temperatura gruntu', 6, 43, '#a52a2a'], ['max/min', 27, 52, '#a52a2a'],
	['Temperatura:', 5, 64, '#000'], ['punkt środkowy', 13, 76, '#ff0000'], ['max/min', 27, 87, '#ffd8cc'],
	['odczuwana', 10, 98, '#0000e0'], ['max/min', 27, 108, '#a8dcff'], ['Temp. punktu rosy', 6, 120, '#6a5acd'],
	['Opad powyżej skali', 6, 137, '#ff0000'], ['Wilgotność względna', 6, 151, '#e8501a'], ['Wystąpienie burzy', 6, 165, '#000'],
	['Deszcz:', 6, 179, '#00a000'], ['max', 49, 179, '#00a000'], ['średni', 48, 190, '#00a000'],
	['Śnieg:', 6, 201, '#2040c0'], ['max', 49, 201, '#2040c0'], ['średni', 48, 212, '#2040c0'],
	['Wystąpienie opadu', 5, 224, '#ff0000'], ['konwekcyjnego', 5, 237, '#ff0000'],
	['Ciśnienie', 5, 263, '#000'], ['zredukowane', 5, 276, '#000'], ['do poziomu morza', 5, 289, '#000'],
	['Wiatr na 10m:', 5, 318, '#000'], ['poryw powyżej skali', 10, 334, '#ff0000'], ['max porywy wiatru', 10, 348, '#ff0000'],
	['prędkość wiatru', 10, 368, NAVY], ['w środku obszaru', 10, 381, NAVY], ['kierunek wiatru', 10, 410, NAVY],
	['Wierzchołek chmur', 6, 429, '#a52a2a'],
	['Podstawa chmur*', 6, 444, '#000'], ['o pokryciu', 6, 456, '#000'],
	['> 7.9 okt.', 11, 468, '#000'], ['> 6.5 okt.', 11, 480, '#555'], ['> 4.5 okt.', 11, 491, '#999'], ['> 2.5 okt.', 11, 501, '#ddd'],
	['Widzialność', 6, 526, '#ff8c00'], ['Chmury:', 6, 543, '#000'],
	['średnie', 10, 569, '#999'], ['niskie', 10, 581, '#444'], ['bardzo niskie', 10, 593, '#444'], ['Mgła', 6, 605, '#ffb400'],
];
const TEXT_BIG = [
	['Czas uniwersalny (UTC)', 6, 622, '#000'],
	['wschód słońca: 06:52 CET', 290, 8, NAVY], ['zachód słońca: 15:43 CET', 291, 21, NAVY],
	['CET', 307, 50, '#000'], ['CET', 860, 50, '#000'], ['UTC', 307, 612, '#000'], ['UTC', 860, 612, '#000'],
	['meteo@icm.edu.pl', 309, 648, NAVY], ['© 2007-2025 ICM, Uniwersytet Warszawski', 623, 648, NAVY],
	['wysokość (min, środek, max)', 739, 8, NAVY],
];
const TEXT_CENTER = [
	['21°40\'27"E, 54°10\'38"N', 596, 8, NAVY], ['(x=260,  y=350)', 596, 21, NAVY], ['75 - 128 - 153 m', 818, 21, NAVY],
	['pon, 10.11', 495, 38, '#000'], ['wto, 11.11', 648, 37, '#000'], ['śro, 12.11', 803, 37, '#000'],
	['10.11', 496, 625, '#000'], ['11.11', 648, 625, '#000'], ['12.11', 802, 625, '#000'],
];
const TEXT_VERT = [
	['temperatura', 290, 96], ['(°C)', 304, 96], ['opad', 290, 183], ['(mm/h, kg/m²/h)', 304, 183],
	['ciśnienie', 290, 268], ['(hPa)', 304, 268], ['wiatr', 290, 354], ['(m/s)', 304, 354],
	['pion. rozciągł. chm.', 290, 473], ['(km)', 304, 477], ['zachmurzenie', 290, 565], ['(oktanty)', 304, 565],
	['temperatura', 903, 96], ['(°C)', 889, 96], ['wilgotność wzgl.', 903, 183], ['(%)', 889, 183],
	['ciśnienie', 903, 270], ['(mm Hg)', 889, 270], ['wiatr', 903, 360], ['(km/h)', 889, 360],
	['widzialność', 903, 475], ['(km)', 889, 475], ['mgła', 903, 562], ['(frakcja)', 889, 562],
];
const COMPASS = [['N', 302, 406], ['E', 307, 416], ['S', 297, 424], ['N', 893, 407], ['E', 904, 415], ['S', 897, 424]];

function addText(str, x, y, color, size, extra) {
	const d = document.createElement('div');
	d.className = 't';
	d.textContent = str;
	d.style.left = x + 'px';
	d.style.top = (y - 7) + 'px';
	d.style.color = color;
	d.style.fontSize = size + 'px';
	if (extra) Object.assign(d.style, extra);
	page.appendChild(d);
}
TEXT.forEach(t => addText(t[0], t[1], t[2], t[3], 10.8));
TEXT_BIG.forEach(t => addText(t[0], t[1], t[2], t[3], 12.3));
TEXT_CENTER.forEach(t => addText(t[0], t[1], t[2], t[3], 12.3, { transform: 'translateX(-50%)' }));
TEXT_VERT.forEach(t => addText(t[0], t[1], t[2], NAVY, 12, { transform: 'translate(-50%, 0) rotate(-90deg)' }));
COMPASS.forEach(t => addText(t[0], t[1], t[2], NAVY, 13, { transform: 'translate(-50%, 0) rotate(-90deg)' }));
addText('W', 289, 416, NAVY, 13, { transform: 'translateX(-50%)' });
addText('W', 886, 416, NAVY, 13, { transform: 'translateX(-50%)' });
addText('> 0.1 okt.', 11, 511, '#fff', 10.8, { background: '#87cefa', width: '44px' });
addText('wysokie', 10, 557, '#fff', 10.8, { background: '#87cefa', width: '41px' });
addText('* powyżej poziomu morza', 5, 648, '#000', 9.3, { fontWeight: 'bold' });

// ---- leader lines from the left legend to the panels
const LEADERS = [
	['68,16 133,16 157,45', '#000'],
	['102,43 120,43 157,100', '#a52a2a'],
	['92,77 116,77', '#ff0000'], ['130,77 134,78 155,100', '#ff0000'],
	['70,99 115,99', '#0000e0'], ['130,99 136,102', '#0000e0'],
	['93,120 115,120 136,113', '#6a5acd'],
	['103,137 137,137 146,147', '#ff0000'],
	['106,151 111,151', '#e8501a'], ['130,151 146,163', '#e8501a'],
	['100,166 112,166', '#000'], ['128,166 137,172', '#000'],
	['71,179 139,179', '#00a000'], ['80,190 145,190', '#00a000'],
	['70,202 112,202', '#2040c0'], ['130,202 160,171', '#2040c0'],
	['80,212 130,212 157,185', '#2040c0'],
	['98,224 142,224 146,220', '#ff0000'],
	['52,264 130,264 136,262', '#000'],
	['112,334 118,334', '#ff0000'], ['130,334 139,317', '#ff0000'],
	['108,348 132,348 146,340', '#ff0000'],
	['92,367 136,367 140,369', NAVY],
	['86,410 139,410', NAVY],
	['100,429 133,430 185,447', '#a52a2a'],
	['57,468 140,468 191,456', '#000'],
	['57,480 143,480', '#555'],
	['55,491 132,491 143,501', '#999'],
	['55,501 130,501 137,507', '#ddd'],
	['55,509 135,509', '#87cefa'], ['55,512 135,512', '#87cefa'],
	['67,527 128,527 172,465', '#ff8c00'],
	['54,556 186,556', '#87cefa'], ['54,558 186,558', '#87cefa'],
	['49,571 193,571', '#999'],
	['40,582 122,582', '#444'], ['131,582 137,582', '#444'],
	['72,594 137,594 146,597', '#444'],
	['27,605 219,605 222,600', '#ffb400'],
	['139,623 147,623 157,608', '#000'],
];
const svg = document.createElementNS('http://www.w3.org/2000/svg', 'svg');
svg.setAttribute('width', 910);
svg.setAttribute('height', 660);
LEADERS.forEach(l => {
	const p = document.createElementNS('http://www.w3.org/2000/svg', 'polyline');
	p.setAttribute('points', l[0]);
	p.setAttribute('fill', 'none');
	p.setAttribute('stroke', l[1]);
	p.setAttribute('stroke-width', 1);
	svg.appendChild(p);
});
page.appendChild(svg);
</script>
</body>
</html>
